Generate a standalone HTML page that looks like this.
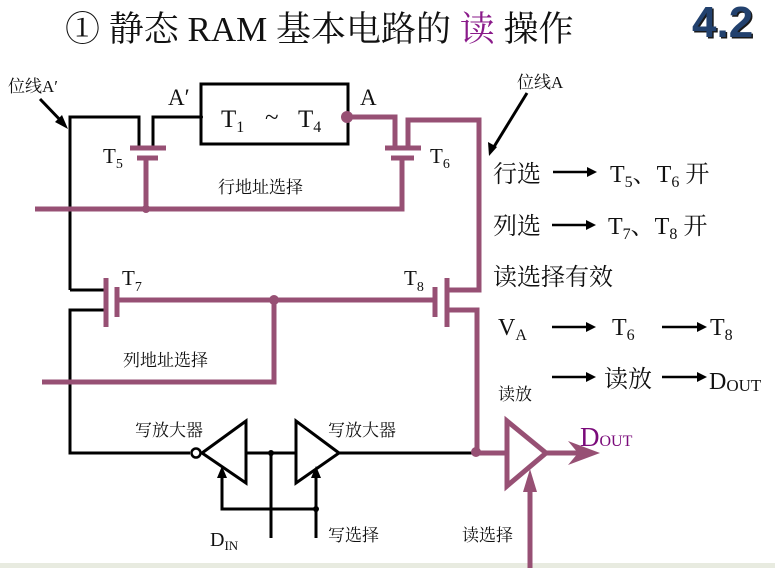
<!DOCTYPE html>
<html><head><meta charset="utf-8"><style>
html,body{margin:0;padding:0;background:#fff;}
body{width:775px;height:568px;overflow:hidden;position:relative;}
svg{position:absolute;left:0;top:0;}
text{font-family:"Liberation Serif","Noto Serif CJK SC","Noto Sans CJK SC",serif;fill:#111;}
</style></head><body>
<svg width="775" height="568" viewBox="0 0 775 568">
<rect x="0" y="563" width="775" height="5" fill="#e8ebe0"/>
<!-- title -->
<text x="65" y="41" font-size="35">① 静态 RAM 基本电路的 <tspan fill="#8a1a8a">读</tspan> 操作</text>
<text x="692" y="37" font-size="44" font-weight="bold" style="fill:#1a1a1a;font-family:'Liberation Sans',sans-serif" transform="translate(1.5,1.5)">4.2</text>
<text x="692" y="37" font-size="44" font-weight="bold" style="fill:#22416e;font-family:'Liberation Sans',sans-serif">4.2</text>

<g fill="none" stroke="#000" stroke-width="3">
<polyline points="70,290 70,117 139,117 139,148"/>
<polyline points="153,148 153,117 201,117"/>
<rect x="201" y="84" width="147" height="60"/>
<polyline points="106,290 70,290"/>
<polyline points="106,310 70,310 70,453 190,453"/>
<line x1="246" y1="453" x2="296" y2="453"/>
<line x1="339" y1="453" x2="475" y2="453"/>
<polygon points="246,421 246,483 202,453"/>
<polygon points="296,421 296,483 339,453"/>
<polyline points="222,472 222,509 316,509 316,538"/>
<line x1="316" y1="472" x2="316" y2="509"/>
<line x1="271" y1="453" x2="271" y2="538"/>
<line x1="40" y1="99" x2="64" y2="124"/>
<line x1="527" y1="93" x2="492" y2="150"/>
</g>
<circle cx="196" cy="453" r="4.5" fill="#fff" stroke="#000" stroke-width="2.5"/>
<circle cx="271" cy="453" r="3" fill="#000"/>
<circle cx="316" cy="509" r="3" fill="#000"/>
<circle cx="201" cy="117" r="2" fill="#000"/>
<polygon points="222,466 217,478 227,478" fill="#000"/>
<polygon points="316,466 311,478 321,478" fill="#000"/>
<polygon points="68,129 55,122 62,115" fill="#000"/>
<polygon points="489,156 488,142 497,147" fill="#000"/>

<g fill="none" stroke="#975074" stroke-width="5">
<line x1="130" y1="148" x2="166" y2="148"/>
<line x1="137" y1="158" x2="158" y2="158"/>
<line x1="146" y1="158" x2="146" y2="209"/>
<polyline points="347,117 395,117 395,148"/>
<line x1="385" y1="148" x2="421" y2="148"/>
<line x1="391" y1="158" x2="414" y2="158"/>
<polyline points="402,158 402,209 35,209"/>
<polyline points="408,148 408,120 479,120 479,290 448,290"/>
<line x1="106" y1="278" x2="106" y2="327"/>
<line x1="117" y1="287" x2="117" y2="317"/>
<line x1="117" y1="300" x2="435" y2="300"/>
<line x1="435" y1="287" x2="435" y2="317"/>
<line x1="447" y1="278" x2="447" y2="327"/>
<polyline points="447,310 477,310 477,453 507,453"/>
<polyline points="42,382 274,382 274,300"/>
<polygon points="507,421 507,486 546,453"/>
<line x1="546" y1="453" x2="592" y2="453"/>
<line x1="530" y1="568" x2="530" y2="478"/>
</g>
<circle cx="347" cy="117" r="6" fill="#975074"/>
<circle cx="146" cy="209" r="4" fill="#975074"/>
<circle cx="274" cy="300" r="5" fill="#975074"/>
<circle cx="476" cy="452" r="5" fill="#975074"/>
<polygon points="600,453 568,441 578,453 568,465" fill="#975074"/>
<polygon points="530,469 523,492 537,492" fill="#975074"/>

<!-- labels -->
<text x="8" y="92" font-size="17">位线A′</text>
<text x="517" y="88" font-size="17">位线A</text>
<text x="168" y="105" font-size="23">A′</text>
<text x="360" y="105" font-size="23">A</text>
<text x="221" y="127" font-size="25">T<tspan font-size="16" dy="5">1</tspan></text>
<text x="265" y="125" font-size="25">~</text>
<text x="298" y="127" font-size="25">T<tspan font-size="16" dy="5">4</tspan></text>
<text x="103" y="163" font-size="21">T<tspan font-size="14" dy="5">5</tspan></text>
<text x="430" y="163" font-size="21">T<tspan font-size="14" dy="5">6</tspan></text>
<text x="122" y="285" font-size="21">T<tspan font-size="14" dy="6">7</tspan></text>
<text x="404" y="285" font-size="21">T<tspan font-size="14" dy="6">8</tspan></text>
<text x="218" y="193" font-size="17">行地址选择</text>
<text x="123" y="366" font-size="17">列地址选择</text>
<text x="135" y="436" font-size="17">写放大器</text>
<text x="328" y="436" font-size="17">写放大器</text>
<text x="210" y="546" font-size="20">D<tspan font-size="13" dy="4">IN</tspan></text>
<text x="328" y="541" font-size="17">写选择</text>
<text x="462" y="541" font-size="17">读选择</text>
<text x="498" y="400" font-size="17">读放</text>
<text x="580" y="446" font-size="27" style="fill:#7a0a7a">D<tspan font-size="16" dy="0">OUT</tspan></text>

<g font-size="24">
<text x="493" y="182">行选</text>
<text x="610" y="182">T<tspan font-size="16" dy="5">5</tspan><tspan dy="-5">、T</tspan><tspan font-size="16" dy="5">6</tspan><tspan dy="-5"> 开</tspan></text>
<text x="493" y="234">列选</text>
<text x="608" y="234">T<tspan font-size="16" dy="5">7</tspan><tspan dy="-5">、T</tspan><tspan font-size="16" dy="5">8</tspan><tspan dy="-5"> 开</tspan></text>
<text x="493" y="285">读选择有效</text>
<text x="498" y="335">V<tspan font-size="16" dy="5">A</tspan></text>
<text x="612" y="335">T<tspan font-size="16" dy="5">6</tspan></text>
<text x="710" y="335">T<tspan font-size="16" dy="5">8</tspan></text>
<text x="604" y="387">读放</text>
<text x="709" y="389">D<tspan font-size="17" dy="2">OUT</tspan></text>
</g>
<g stroke="#000" stroke-width="2.5">
<line x1="553" y1="172" x2="590" y2="172"/>
<line x1="552" y1="225" x2="589" y2="225"/>
<line x1="552" y1="327" x2="589" y2="327"/>
<line x1="662" y1="327" x2="700" y2="327"/>
<line x1="552" y1="377" x2="589" y2="377"/>
<line x1="662" y1="377" x2="700" y2="377"/>
</g>
<g fill="#000">
<polygon points="597,172 587,167 587,177"/>
<polygon points="596,225 586,220 586,230"/>
<polygon points="596,327 586,322 586,332"/>
<polygon points="707,327 697,322 697,332"/>
<polygon points="596,377 586,372 586,382"/>
<polygon points="707,377 697,372 697,382"/>
</g>
</svg>
</body></html>
